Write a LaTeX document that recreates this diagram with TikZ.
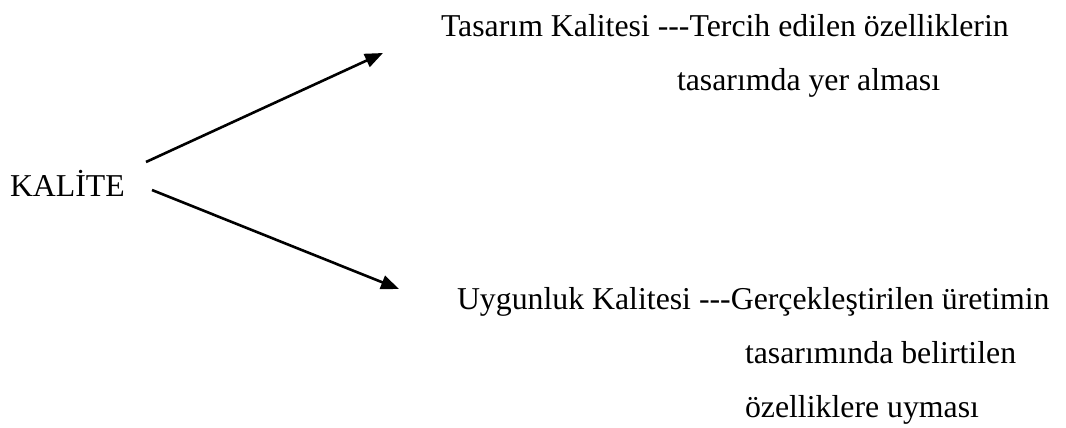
\documentclass[tikz,border=0pt]{standalone}
\usepackage{fontspec}
\setmainfont{Liberation Serif}
\usetikzlibrary{arrows.meta}

\tikzset{
  label text/.style={anchor=base west, inner sep=0pt, outer sep=0pt,
    font=\fontsize{31.8}{54}\selectfont},
  branch/.style={line width=2.6pt, -{Triangle[length=18pt,width=14pt]}},
}

\begin{document}
\begin{tikzpicture}[x=1pt,y=-1pt]
  \useasboundingbox (0,0) rectangle (1066,428);

  % root term
  \node[label text] (kalite) at (10,196) {KALİTE};

  % design quality
  \node[label text] (tasarim) at (441,37) {Tasarım Kalitesi -{}-{}-Tercih edilen özelliklerin};
  \node[label text] (tasarim2) at (677,91) {tasarımda yer alması};

  % conformance quality
  \node[label text] (uygunluk) at (457,309) {Uygunluk Kalitesi -{}-{}-Gerçekleştirilen üretimin};
  \node[label text] (uygunluk2) at (745,363) {tasarımında belirtilen};
  \node[label text] (uygunluk3) at (745,417) {özelliklere uyması};

  % branch arrows
  \coordinate (up-from) at (146,162);
  \coordinate (up-to) at (383,53);
  \coordinate (down-from) at (152,190);
  \coordinate (down-to) at (399,289);
  \draw[branch] (up-from) -- (up-to);
  \draw[branch] (down-from) -- (down-to);
\end{tikzpicture}
\end{document}
